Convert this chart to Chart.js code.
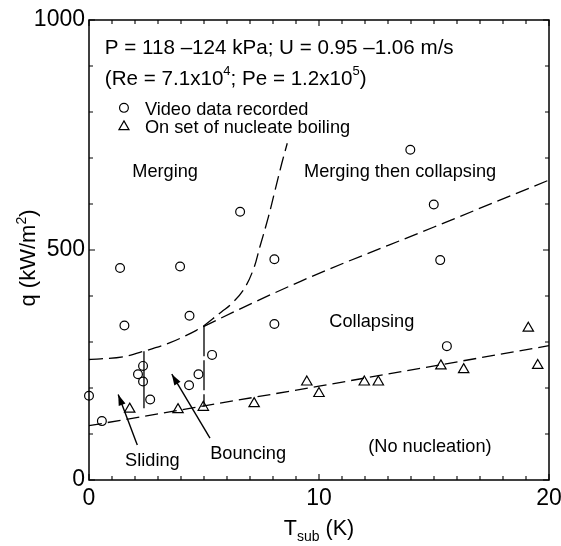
<!DOCTYPE html>
<html><head><meta charset="utf-8">
<script src="https://cdn.jsdelivr.net/npm/chart.js@4.4.1/dist/chart.umd.min.js"></script>
<style>html,body{margin:0;padding:0;background:#fff}#wrap{width:561px;height:546px}</style>
</head><body><div id="wrap"><canvas id="c" width="561" height="546"></canvas></div>
<script>
// ---- data ----
const videoX = [0, 0.56, 1.35, 1.54, 2.13, 2.35, 2.35, 2.66, 3.96, 4.35, 4.37, 4.76, 5.35, 6.57, 8.06, 8.06, 13.97, 14.99, 15.27, 15.56];
const videoY = [183, 128, 461, 336, 230, 248, 214, 175, 464, 206, 357, 230, 272, 583, 480, 339, 718, 599, 478, 291];
const onsetX = [1.77, 3.87, 4.97, 7.18, 9.47, 10.0, 11.97, 12.58, 15.30, 16.29, 19.10, 19.51];
const onsetY = [154, 153, 158, 166, 213, 188, 213, 213, 248, 240, 330, 249];
const onsetLineX = [0, 10, 20];
const onsetLineY = [118, 204, 292];
const collapseLineX = [0, 1.5, 2.39, 3.5, 4.3, 5.0, 9.2, 15, 20];
const collapseLineY = [262, 268, 280, 298, 316, 334, 432, 550, 652];
const mergeLineX = [4.97, 5.77, 6.13, 6.71, 7.14, 7.43, 7.80, 8.09, 8.38, 8.62];
const mergeLineY = [334, 366, 380, 413, 457, 507, 572, 630, 688, 732];
const slidingBoundX = [2.39, 2.39];
const slidingBoundY = [280, 156];
const bouncingBoundX = [5.0, 5.0];
const bouncingBoundY = [334, 159];
const slidingArrowX = [2.10, 1.27];
const slidingArrowY = [76, 186];
const bouncingArrowX = [5.26, 3.60];
const bouncingArrowY = [91, 230];
const xTickLabels = [0, 10, 20];
const yTickLabels = [0, 500, 1000];

const FONT = '"Liberation Sans", Arial, Helvetica, sans-serif';
const pts = (xs, ys) => xs.map((x, i) => ({x: x, y: ys[i]}));

const annotations = [
  {text: 'Merging', x: 1.88, y: 659},
  {text: 'Merging then collapsing', x: 9.35, y: 659},
  {text: 'Collapsing', x: 10.45, y: 333},
  {text: '(No nucleation)', x: 12.14, y: 60},
  {text: 'Sliding', x: 1.57, y: 30},
  {text: 'Bouncing', x: 5.27, y: 45},
  {text: 'Video data recorded', x: 2.43, y: 793},
  {text: 'On set of nucleate boiling', x: 2.43, y: 754}
];

function lineDs(xs, ys, dash, extra) {
  return Object.assign({
    type: 'line', data: pts(xs, ys), borderColor: '#000', borderWidth: 1.3,
    borderDash: dash, pointRadius: 0, fill: false, tension: 0
  }, extra || {});
}

const decor = {
  id: 'decor',
  afterDatasetsDraw(chart) {
    const ctx = chart.ctx, ca = chart.chartArea;
    const xs = chart.scales.x, ys = chart.scales.y;
    ctx.save();
    // arrow heads
    chart.data.datasets.forEach((ds, i) => {
      if (!ds.arrow) return;
      const d = chart.getDatasetMeta(i).data;
      const a = d[d.length - 2], b = d[d.length - 1];
      const ang = Math.atan2(b.y - a.y, b.x - a.x);
      const L = 11, W = 3.6;
      ctx.fillStyle = '#000';
      ctx.beginPath();
      ctx.moveTo(b.x, b.y);
      ctx.lineTo(b.x - L * Math.cos(ang) + W * Math.sin(ang), b.y - L * Math.sin(ang) - W * Math.cos(ang));
      ctx.lineTo(b.x - L * Math.cos(ang) - W * Math.sin(ang), b.y - L * Math.sin(ang) + W * Math.cos(ang));
      ctx.closePath();
      ctx.fill();
    });
    // frame
    ctx.strokeStyle = '#000';
    ctx.lineWidth = 1.5;
    ctx.setLineDash([]);
    ctx.strokeRect(ca.left, ca.top, ca.right - ca.left, ca.bottom - ca.top);
    // inward ticks
    ctx.lineWidth = 1.1;
    ctx.beginPath();
    for (let v = 0; v <= 20; v++) {
      const px = xs.getPixelForValue(v), len = (v % 10 === 0) ? 6 : 4;
      ctx.moveTo(px, ca.bottom); ctx.lineTo(px, ca.bottom - len);
      ctx.moveTo(px, ca.top); ctx.lineTo(px, ca.top + len);
    }
    for (let v = 0; v <= 1000; v += 100) {
      const py = ys.getPixelForValue(v), len = (v % 500 === 0) ? 6 : 4;
      ctx.moveTo(ca.left, py); ctx.lineTo(ca.left + len, py);
      ctx.moveTo(ca.right, py); ctx.lineTo(ca.right - len, py);
    }
    ctx.stroke();
    // texts
    ctx.fillStyle = '#000';
    ctx.textBaseline = 'alphabetic';
    ctx.textAlign = 'left';
    ctx.font = '18.2px ' + FONT;
    annotations.forEach(a => ctx.fillText(a.text, xs.getPixelForValue(a.x), ys.getPixelForValue(a.y)));
    // header lines
    function rich(segs, x, y, size) {
      let cx = x;
      segs.forEach(s => {
        const fs = s.sup ? size * 0.63 : size;
        ctx.font = fs + 'px ' + FONT;
        ctx.fillText(s.t, cx, y - (s.sup ? size * 0.5 : 0));
        cx += ctx.measureText(s.t).width;
      });
    }
    rich([{t: 'P = 118 \u2013124 kPa; U = 0.95 \u20131.06 m/s'}], xs.getPixelForValue(0.69), ys.getPixelForValue(926), 20.6);
    rich([{t: '(Re = 7.1x10'}, {t: '4', sup: true}, {t: '; Pe = 1.2x10'}, {t: '5', sup: true}, {t: ')'}],
      xs.getPixelForValue(0.69), ys.getPixelForValue(858), 20.6);
    // legend symbols
    ctx.lineWidth = 1.2;
    const lx = xs.getPixelForValue(1.52);
    let ly = ys.getPixelForValue(809);
    ctx.beginPath(); ctx.arc(lx, ly, 4.4, 0, Math.PI * 2); ctx.stroke();
    ly = ys.getPixelForValue(768);
    const r = 5.8;
    ctx.beginPath();
    ctx.moveTo(lx, ly - r);
    ctx.lineTo(lx + r * Math.sin(Math.PI * 2 / 3), ly - r * Math.cos(Math.PI * 2 / 3));
    ctx.lineTo(lx - r * Math.sin(Math.PI * 2 / 3), ly - r * Math.cos(Math.PI * 2 / 3));
    ctx.closePath(); ctx.stroke();
    // x title
    ctx.font = '21.5px ' + FONT;
    const wT = ctx.measureText('T').width, wK = ctx.measureText(' (K)').width;
    ctx.font = '14px ' + FONT;
    const wS = ctx.measureText('sub').width;
    let tx = (ca.left + ca.right) / 2 - (wT + wS + wK) / 2;
    ctx.font = '21.5px ' + FONT; ctx.fillText('T', tx, 535); tx += wT;
    ctx.font = '14px ' + FONT; ctx.fillText('sub', tx, 541); tx += wS;
    ctx.font = '21.5px ' + FONT; ctx.fillText(' (K)', tx, 535);
    // y title
    ctx.save();
    ctx.translate(35, 258);
    ctx.rotate(-Math.PI / 2);
    ctx.font = '22px ' + FONT;
    const w1 = ctx.measureText('q (kW/m').width, w3 = ctx.measureText(')').width;
    ctx.font = '14px ' + FONT;
    const w2 = ctx.measureText('2').width;
    let ty = -(w1 + w2 + w3) / 2;
    ctx.font = '22px ' + FONT; ctx.fillText('q (kW/m', ty, 0); ty += w1;
    ctx.font = '14px ' + FONT; ctx.fillText('2', ty, -9); ty += w2;
    ctx.font = '22px ' + FONT; ctx.fillText(')', ty, 0);
    ctx.restore();
    ctx.restore();
  }
};

new Chart(document.getElementById('c'), {
  type: 'scatter',
  data: {
    datasets: [
      {data: pts(videoX, videoY), pointStyle: 'circle', pointRadius: 4.4, borderColor: '#000',
       backgroundColor: 'rgba(0,0,0,0)', borderWidth: 1.2},
      {data: pts(onsetX, onsetY), pointStyle: 'triangle', pointRadius: 6, borderColor: '#000',
       backgroundColor: 'rgba(0,0,0,0)', borderWidth: 1.2},
      lineDs(onsetLineX, onsetLineY, [13, 6]),
      lineDs(collapseLineX, collapseLineY, [14, 6], {cubicInterpolationMode: 'monotone'}),
      lineDs(mergeLineX, mergeLineY, [14, 6], {tension: 0.4}),
      lineDs(slidingBoundX, slidingBoundY, []),
      lineDs(bouncingBoundX, bouncingBoundY, [30, 4]),
      lineDs(slidingArrowX, slidingArrowY, [], {arrow: true, borderWidth: 1.4}),
      lineDs(bouncingArrowX, bouncingArrowY, [], {arrow: true, borderWidth: 1.4})
    ]
  },
  options: {
    responsive: false, animation: false, events: [],
    clip: false,
    layout: {padding: {top: 20, right: 12, left: 0, bottom: 0}},
    plugins: {legend: {display: false}, tooltip: {enabled: false}},
    scales: {
      x: {
        type: 'linear', min: 0, max: 20,
        afterBuildTicks: s => { s.ticks = xTickLabels.map(v => ({value: v})); },
        ticks: {autoSkip: false, maxRotation: 0, padding: 5, color: '#000', font: {family: FONT, size: 23},
                callback: v => String(v)},
        grid: {display: false, drawTicks: false}, border: {display: false},
        afterFit: s => { s.height = 66; s.paddingLeft = 0; s.paddingRight = 0; }
      },
      y: {
        type: 'linear', min: 0, max: 1000,
        afterBuildTicks: s => { s.ticks = yTickLabels.map(v => ({value: v})); },
        ticks: {autoSkip: false, padding: 4, color: '#000', font: {family: FONT, size: 23},
                callback: v => String(v)},
        grid: {display: false, drawTicks: false}, border: {display: false},
        afterFit: s => { s.width = 89; s.paddingTop = 0; s.paddingBottom = 0; }
      }
    }
  },
  plugins: [decor]
});
</script>
</body></html>
